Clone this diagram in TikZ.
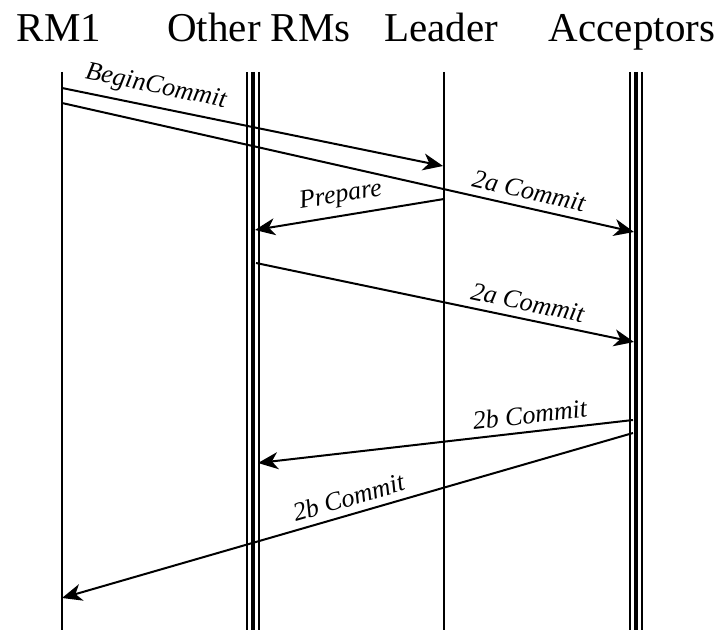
\documentclass[tikz,border=0pt]{standalone}
\usepackage{fontspec}
\setmainfont{Liberation Serif}
\usetikzlibrary{arrows.meta}
\begin{document}
\begin{tikzpicture}[x=1bp,y=-1bp,
  title/.style={font=\fontsize{41bp}{46bp}\selectfont, anchor=base, inner sep=0pt},
  lbl/.style={font=\fontsize{26bp}{30bp}\selectfont\itshape, sloped, above, inner sep=0pt, yshift=7bp},
  single/.style={line width=2bp},
  msg/.style={line width=2bp, -{Stealth[length=20bp,width=17bp,inset=6bp]}}]
\useasboundingbox (0,0) rectangle (728,630);
% titles
\node[title] (t1) at (59,42) {RM1};
\node[title] (t2) at (259,42) {Other RMs};
\node[title] (t3) at (441,42) {Leader};
\node[title] (t4) at (632,42) {Acceptors};
% lifelines
\coordinate (rmTop) at (62,72);   \coordinate (rmBot) at (62,630);
\coordinate (orTop) at (253,72);  \coordinate (orBot) at (253,630);
\coordinate (ldTop) at (444,72);  \coordinate (ldBot) at (444,630);
\coordinate (acTop) at (636,72);  \coordinate (acBot) at (636,630);
\draw[single] (rmTop) -- (rmBot);
\draw[single] (ldTop) -- (ldBot);
\foreach \a/\b in {orTop/orBot, acTop/acBot}{
  \draw[line width=14bp] (\a) -- (\b);
  \draw[line width=10bp, white] (\a) -- (\b);
  \draw[line width=4.5bp] (\a) -- (\b);
}
% message end points
\coordinate (m1s) at (62,88);   \coordinate (m1e) at (443,166);
\coordinate (m2s) at (62,103);  \coordinate (m2e) at (634,232);
\coordinate (m3s) at (444,199); \coordinate (m3e) at (255,230);
\coordinate (m4s) at (256,263); \coordinate (m4e) at (634,342);
\coordinate (m5s) at (633,420); \coordinate (m5e) at (258,463);
\coordinate (m6s) at (633,433); \coordinate (m6e) at (62,598);
% messages
\draw[msg] (m1s) -- node[lbl, pos=0.236] {BeginCommit} (m1e);
\draw[msg] (m2s) -- node[lbl, pos=0.81] {2a Commit} (m2e);
\draw[msg] (m3s) -- node[lbl, pos=0.53] {Prepare} (m3e);
\draw[msg] (m4s) -- node[lbl, pos=0.71] {2a Commit} (m4e);
\draw[msg] (m5s) -- node[lbl, pos=0.27] {2b Commit} (m5e);
\draw[msg] (m6s) -- node[lbl, pos=0.49] {2b Commit} (m6e);
\end{tikzpicture}
\end{document}
